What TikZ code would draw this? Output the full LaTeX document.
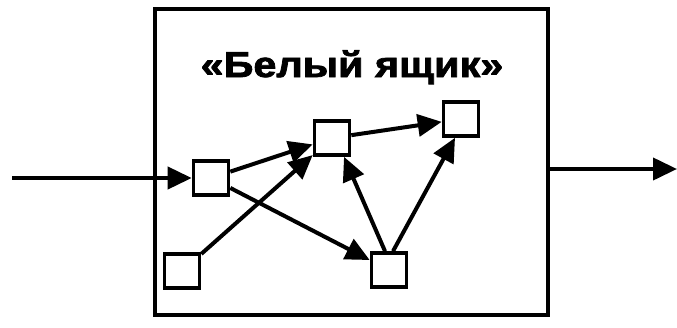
\documentclass[tikz,border=0pt]{standalone}
\usepackage{fontspec}
\setmainfont{Liberation Sans}
\newfontfamily\titlefont[FakeBold=2]{Liberation Sans Bold}
\usetikzlibrary{arrows.meta}
\tikzset{
  blk/.style={draw, line width=3.6pt, minimum width=35pt, minimum height=34pt, inner sep=0pt, fill=white},
  frm/.style={draw, line width=3.2pt, minimum width=393pt, minimum height=306pt, inner sep=0pt},
  con/.style={line width=4pt, -{Triangle[length=24pt,width=22pt]}},
}
\begin{document}
\begin{tikzpicture}[x=1pt,y=-1pt]
\useasboundingbox (0,0) rectangle (677,327);
\node[frm] (frame) at (351.5,162) {};
\node[anchor=base, font=\titlefont\fontsize{36}{40}\selectfont, xscale=1.15] (title) at (352,77) {«Белый ящик»};
\node[blk] (a) at (211,178) {};
\node[blk] (b) at (182,271) {};
\node[blk] (c) at (332,138) {};
\node[blk] (d) at (461,119) {};
\node[blk] (e) at (389,270) {};
\coordinate (in) at (12,178);
\coordinate (outs) at (548,169);
\coordinate (oute) at (677,169);
\draw[con] (in) -- (a);
\draw[con] (outs) -- (oute);
\draw[con] (a) -- (c);
\draw[con] (a) -- (e);
\draw[con] (b) -- (c);
\draw[con] ([xshift=-4pt]e.north) -- ([xshift=12pt]c.south);
\draw[con] ([xshift=4pt]e.north) -- ([xshift=-6pt]d.south);
\draw[con] (c) -- (d);
\end{tikzpicture}
\end{document}
